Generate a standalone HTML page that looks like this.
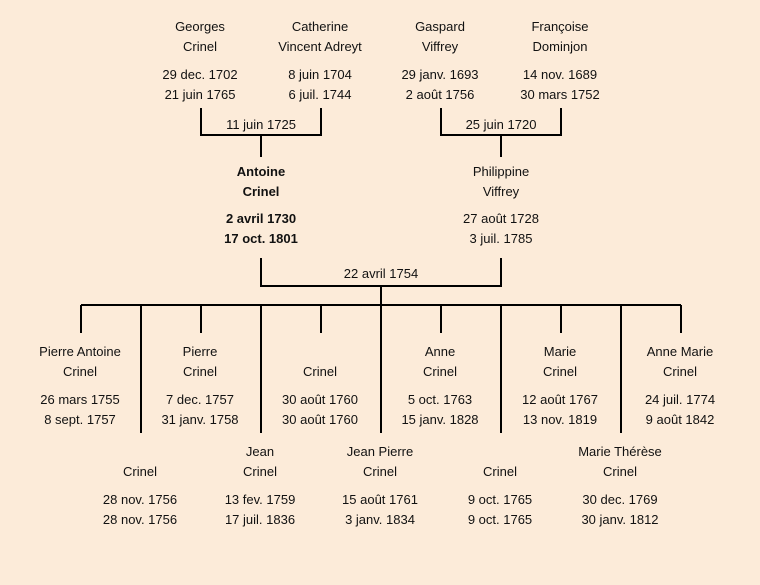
<!DOCTYPE html>
<html><head><meta charset="utf-8"><style>
body{margin:0;width:760px;height:585px;background:#fcebd9;position:relative;overflow:hidden;font-family:"Liberation Sans","DejaVu Sans",sans-serif;font-size:13px;color:#111}
.t{position:absolute;width:160px;margin-left:-80px;text-align:center;line-height:20px;white-space:nowrap}
.b{font-weight:bold}
svg{position:absolute;left:0;top:0}
</style></head><body>
<svg width="760" height="585"><g stroke="#000" stroke-width="2" fill="none">
<path d="M201 108V135H321V108M261 135V157"/>
<path d="M441 108V135H561V108M501 135V157"/>
<path d="M261 258V286H501V258M381 286V305"/>
<path d="M81 305H681"/>
<path d="M81 305V333M201 305V333M321 305V333M441 305V333M561 305V333M681 305V333"/>
<path d="M141 305V433M261 305V433M381 305V433M501 305V433M621 305V433"/>
</g></svg>
<div class="t" style="left:200px;top:17px">Georges<br>Crinel</div>
<div class="t" style="left:200px;top:65px">29 dec. 1702<br>21 juin 1765</div>
<div class="t" style="left:320px;top:17px">Catherine<br>Vincent Adreyt</div>
<div class="t" style="left:320px;top:65px">8 juin 1704<br>6 juil. 1744</div>
<div class="t" style="left:440px;top:17px">Gaspard<br>Viffrey</div>
<div class="t" style="left:440px;top:65px">29 janv. 1693<br>2 août 1756</div>
<div class="t" style="left:560px;top:17px">Françoise<br>Dominjon</div>
<div class="t" style="left:560px;top:65px">14 nov. 1689<br>30 mars 1752</div>
<div class="t" style="left:261px;top:115px">11 juin 1725</div>
<div class="t" style="left:501px;top:115px">25 juin 1720</div>
<div class="t b" style="left:261px;top:162px">Antoine<br>Crinel</div>
<div class="t b" style="left:261px;top:209px">2 avril 1730<br>17 oct. 1801</div>
<div class="t" style="left:501px;top:162px">Philippine<br>Viffrey</div>
<div class="t" style="left:501px;top:209px">27 août 1728<br>3 juil. 1785</div>
<div class="t" style="left:381px;top:264px">22 avril 1754</div>

<div class="t" style="left:80px;top:342px">Pierre Antoine<br>Crinel</div>
<div class="t" style="left:80px;top:390px">26 mars 1755<br>8 sept. 1757</div>
<div class="t" style="left:200px;top:342px">Pierre<br>Crinel</div>
<div class="t" style="left:200px;top:390px">7 dec. 1757<br>31 janv. 1758</div>
<div class="t" style="left:320px;top:362px">Crinel</div>
<div class="t" style="left:320px;top:390px">30 août 1760<br>30 août 1760</div>
<div class="t" style="left:440px;top:342px">Anne<br>Crinel</div>
<div class="t" style="left:440px;top:390px">5 oct. 1763<br>15 janv. 1828</div>
<div class="t" style="left:560px;top:342px">Marie<br>Crinel</div>
<div class="t" style="left:560px;top:390px">12 août 1767<br>13 nov. 1819</div>
<div class="t" style="left:680px;top:342px">Anne Marie<br>Crinel</div>
<div class="t" style="left:680px;top:390px">24 juil. 1774<br>9 août 1842</div>

<div class="t" style="left:140px;top:462px">Crinel</div>
<div class="t" style="left:140px;top:490px">28 nov. 1756<br>28 nov. 1756</div>
<div class="t" style="left:260px;top:442px">Jean<br>Crinel</div>
<div class="t" style="left:260px;top:490px">13 fev. 1759<br>17 juil. 1836</div>
<div class="t" style="left:380px;top:442px">Jean Pierre<br>Crinel</div>
<div class="t" style="left:380px;top:490px">15 août 1761<br>3 janv. 1834</div>
<div class="t" style="left:500px;top:462px">Crinel</div>
<div class="t" style="left:500px;top:490px">9 oct. 1765<br>9 oct. 1765</div>
<div class="t" style="left:620px;top:442px">Marie Thérèse<br>Crinel</div>
<div class="t" style="left:620px;top:490px">30 dec. 1769<br>30 janv. 1812</div>
</body></html>
